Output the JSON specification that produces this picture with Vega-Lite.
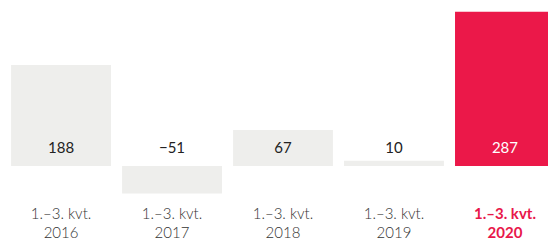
{
  "$schema": "https://vega.github.io/schema/vega-lite/v6.json",
  "width": 566,
  "height": 200,
  "autosize": {"type": "none"},
  "padding": {"left": 0, "top": 0, "right": 0, "bottom": 40},
  "background": "white",
  "config": {"view": {"stroke": null}, "font": "Lato"},
  "data": {"values": [
    {"year": "2016", "value": 188, "current": false},
    {"year": "2017", "value": -51, "current": false},
    {"year": "2018", "value": 67, "current": false},
    {"year": "2019", "value": 10, "current": false},
    {"year": "2020", "value": 287, "current": true}
  ]},
  "encoding": {
    "x": {"field": "year", "type": "nominal", "sort": null,
      "scale": {"paddingInner": 0.1, "paddingOuter": 0.1},
      "axis": {"title": null, "domain": false, "ticks": false, "labelAngle": 0,
        "labelExpr": "['1.–3. kvt.', datum.label]",
        "labelFontSize": 15, "labelLineHeight": 19, "labelPadding": 6,
        "labelColor": {"condition": {"test": "datum.value == '2020'", "value": "#e8174a"}, "value": "#333333"},
        "labelFontWeight": {"condition": {"test": "datum.value == '2020'", "value": "bold"}, "value": 300}}}
  },
  "layer": [
    {"mark": {"type": "bar"},
     "encoding": {
       "y": {"field": "value", "type": "quantitative", "scale": {"domain": [-63.3, 309.1], "nice": false, "zero": true}, "axis": null},
       "color": {"field": "current", "type": "nominal", "scale": {"domain": [false, true], "range": ["#eeeeec", "#eb1849"]}, "legend": null}
     }},
    {"mark": {"type": "text", "fontSize": 15, "baseline": "middle", "dy": -18, "fontWeight": "normal"},
     "encoding": {
       "y": {"datum": 0, "type": "quantitative", "scale": {"domain": [-63.3, 309.1], "nice": false}},
       "text": {"field": "value", "type": "quantitative", "format": "d"},
       "color": {"field": "current", "type": "nominal", "scale": {"domain": [false, true], "range": ["#222222", "#ffffff"]}, "legend": null}
     }}
  ],
  "resolve": {"scale": {"color": "independent"}}
}
